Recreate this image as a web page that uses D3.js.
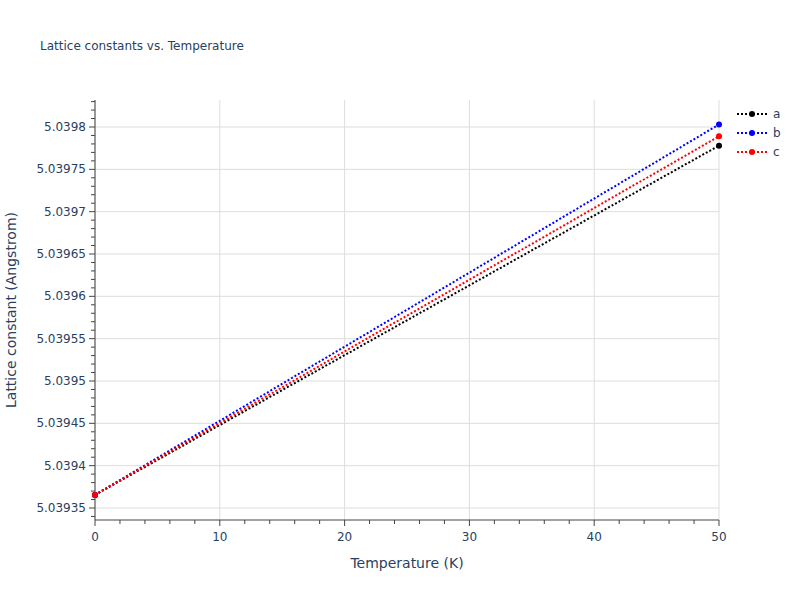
<!DOCTYPE html>
<html><head><meta charset="utf-8">
<script src="https://cdn.jsdelivr.net/npm/d3@7"></script>
<style>body{margin:0;background:#fff}text{font-family:"DejaVu Sans",Verdana,sans-serif}</style>
</head><body><svg id="c" width="800" height="600"></svg>
<script>
const temps=[0,50];
const seriesNames=["a","b","c"];
const colors=["black","blue","red"];
const aVals=[5.0393655,5.039778];
const bVals=[5.0393655,5.039803];
const cVals=[5.0393655,5.039789];
const yTicks=[5.03935,5.0394,5.03945,5.0395,5.03955,5.0396,5.03965,5.0397,5.03975,5.0398];
const xTicks=[0,10,20,30,40,50];
const data=[aVals,bVals,cVals];
const txt="#2a3f5f";
const svg=d3.select("#c");
const L=95,R=719,T=100,B=520;
const x=d3.scaleLinear().domain([0,50]).range([L,R]);
const y=d3.scaleLinear().domain([5.03935,5.0398]).range([508,127]);
const g=svg.append("g");
xTicks.forEach(t=>g.append("line").attr("x1",x(t)).attr("x2",x(t)).attr("y1",T).attr("y2",B).attr("stroke","#ddd"));
yTicks.forEach(t=>g.append("line").attr("x1",L).attr("x2",R).attr("y1",y(t)).attr("y2",y(t)).attr("stroke","#ddd"));
d3.range(0,51,2).forEach(t=>g.append("line").attr("x1",x(t)).attr("x2",x(t)).attr("y1",B).attr("y2",B+(t%10===0?6:4)).attr("stroke","#444"));
const yMin=y.invert(B),yMax=y.invert(T);
for(let v=5.03933;v<=yMax;v+=0.00001){ if(v<yMin)continue; const mj=yTicks.some(t=>Math.abs(t-v)<1e-9);
 g.append("line").attr("x1",L).attr("x2",L-(mj?6:4)).attr("y1",y(v)).attr("y2",y(v)).attr("stroke","#444");}
g.append("line").attr("x1",L).attr("x2",R).attr("y1",B).attr("y2",B).attr("stroke","#444");
g.append("line").attr("x1",L).attr("x2",L).attr("y1",T).attr("y2",B).attr("stroke","#444");
xTicks.forEach(t=>g.append("text").attr("x",x(t)).attr("y",B+21).attr("text-anchor","middle").attr("font-size",12).attr("fill",txt).text(t));
yTicks.forEach(t=>g.append("text").attr("x",L-9).attr("y",y(t)+4).attr("text-anchor","end").attr("font-size",12).attr("fill",txt).text(t));
const line=d3.line().x((d,i)=>x(temps[i])).y(d=>y(d));
data.forEach((s,k)=>{
 g.append("path").attr("d",line(s)).attr("fill","none").attr("stroke",colors[k]).attr("stroke-width",2).attr("stroke-dasharray","2,2");
 s.forEach((v,i)=>g.append("circle").attr("cx",x(temps[i])).attr("cy",y(v)).attr("r",3).attr("fill",colors[k]));
});
seriesNames.forEach((n,k)=>{const yy=114+k*19;
 g.append("line").attr("x1",737).attr("x2",767).attr("y1",yy).attr("y2",yy).attr("stroke",colors[k]).attr("stroke-width",2).attr("stroke-dasharray","2,2");
 g.append("circle").attr("cx",752).attr("cy",yy).attr("r",3).attr("fill",colors[k]);
 g.append("text").attr("x",773).attr("y",yy+4).attr("font-size",12).attr("fill",txt).text(n);});
svg.append("text").attr("x",40).attr("y",50).attr("font-size",12).attr("fill",txt).text("Lattice constants vs. Temperature");
svg.append("text").attr("x",407).attr("y",568).attr("text-anchor","middle").attr("font-size",14).attr("fill",txt).text("Temperature (K)");
svg.append("text").attr("transform","translate(16,310) rotate(-90)").attr("text-anchor","middle").attr("font-size",14).attr("fill",txt).text("Lattice constant (Angstrom)");
</script></body></html>
